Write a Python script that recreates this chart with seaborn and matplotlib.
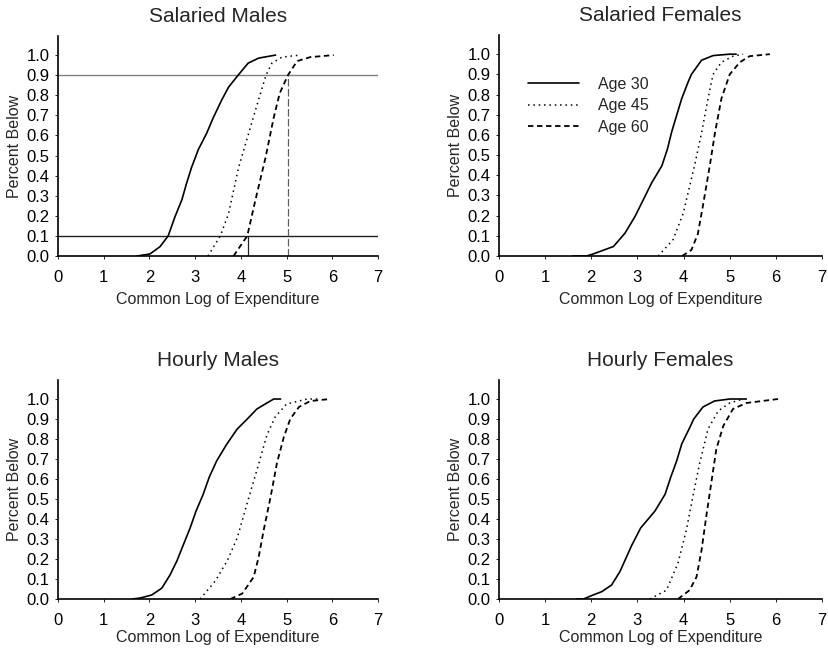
import matplotlib
matplotlib.use("Agg")
import matplotlib.pyplot as plt
import seaborn as sns
import numpy as np
from matplotlib.lines import Line2D

sns.set_style("ticks")
plt.rcParams['font.family'] = ['Liberation Sans', 'DejaVu Sans']

titles = ["Salaried Males", "Salaried Females", "Hourly Males", "Hourly Females"]
ages = ["Age 30", "Age 45", "Age 60"]

# Salaried Males
sm30_x = [1.73, 2.01, 2.23, 2.41, 2.56, 2.71, 2.81, 2.92, 3.07, 3.25, 3.40, 3.58, 3.73, 3.94, 4.16, 4.39, 4.76]
sm30_y = [0.0, 0.01, 0.046, 0.10, 0.196, 0.28, 0.36, 0.44, 0.53, 0.61, 0.69, 0.776, 0.84, 0.90, 0.96, 0.985, 1.0]
sm45_x = [3.28, 3.55, 3.73, 3.95, 4.17, 4.39, 4.55, 4.68, 4.90, 5.30]
sm45_y = [0.0, 0.10, 0.21, 0.44, 0.61, 0.78, 0.90, 0.96, 0.99, 1.0]
sm60_x = [3.84, 3.99, 4.14, 4.32, 4.54, 4.72, 4.85, 5.03, 5.23, 5.52, 6.03]
sm60_y = [0.0, 0.05, 0.10, 0.28, 0.49, 0.69, 0.81, 0.90, 0.97, 0.99, 1.0]

# Salaried Females
sf30_x = [1.60, 1.90, 2.04, 2.48, 2.73, 2.95, 3.13, 3.31, 3.53, 3.65, 3.74, 3.85, 3.96, 4.10, 4.17, 4.39, 4.64, 5.00, 5.14]
sf30_y = [0.0, 0.0, 0.01, 0.047, 0.113, 0.197, 0.28, 0.363, 0.447, 0.53, 0.613, 0.697, 0.78, 0.863, 0.90, 0.97, 0.993, 1.0, 1.0]
sf45_x = [3.45, 3.77, 3.99, 4.24, 4.39, 4.53, 4.64, 4.82, 5.07, 5.29]
sf45_y = [0.0, 0.08, 0.21, 0.45, 0.61, 0.78, 0.90, 0.96, 0.99, 1.0]
sf60_x = [3.97, 4.17, 4.31, 4.42, 4.57, 4.68, 4.82, 5.00, 5.22, 5.43, 5.87]
sf60_y = [0.0, 0.03, 0.11, 0.25, 0.45, 0.61, 0.78, 0.90, 0.96, 0.99, 1.0]

# Hourly Males
hm30_x = [1.62, 1.80, 2.05, 2.27, 2.45, 2.60, 2.74, 2.89, 3.02, 3.17, 3.31, 3.47, 3.68, 3.92, 4.14, 4.35, 4.57, 4.72, 4.87]
hm30_y = [0.0, 0.005, 0.02, 0.054, 0.12, 0.19, 0.27, 0.355, 0.44, 0.52, 0.61, 0.69, 0.77, 0.85, 0.90, 0.95, 0.98, 1.0, 1.0]
hm45_x = [3.11, 3.44, 3.70, 3.92, 4.14, 4.37, 4.57, 4.75, 5.00, 5.45, 5.74]
hm45_y = [0.0, 0.09, 0.19, 0.305, 0.48, 0.66, 0.82, 0.91, 0.975, 1.0, 1.0]
hm60_x = [3.77, 4.03, 4.28, 4.39, 4.50, 4.65, 4.79, 4.94, 5.08, 5.27, 5.52, 5.96]
hm60_y = [0.0, 0.027, 0.11, 0.21, 0.345, 0.51, 0.68, 0.81, 0.90, 0.96, 0.99, 1.0]

# Hourly Females
hf30_x = [1.68, 1.83, 2.04, 2.23, 2.44, 2.62, 2.88, 3.07, 3.38, 3.60, 3.72, 3.85, 3.96, 4.14, 4.22, 4.42, 4.67, 5.00, 5.36]
hf30_y = [0.0, 0.0, 0.02, 0.037, 0.07, 0.137, 0.27, 0.355, 0.44, 0.524, 0.608, 0.69, 0.775, 0.86, 0.90, 0.96, 0.99, 1.0, 1.0]
hf45_x = [3.27, 3.63, 3.88, 4.06, 4.20, 4.35, 4.53, 4.75, 5.00, 5.29]
hf45_y = [0.0, 0.044, 0.18, 0.345, 0.51, 0.68, 0.85, 0.94, 0.98, 1.0]
hf60_x = [3.88, 4.13, 4.28, 4.39, 4.49, 4.60, 4.71, 4.86, 5.07, 5.36, 6.05]
hf60_y = [0.0, 0.044, 0.11, 0.245, 0.41, 0.58, 0.75, 0.865, 0.95, 0.98, 1.0]

panels = [
    [(sm30_x, sm30_y), (sm45_x, sm45_y), (sm60_x, sm60_y)],
    [(sf30_x, sf30_y), (sf45_x, sf45_y), (sf60_x, sf60_y)],
    [(hm30_x, hm30_y), (hm45_x, hm45_y), (hm60_x, hm60_y)],
    [(hf30_x, hf30_y), (hf45_x, hf45_y), (hf60_x, hf60_y)],
]

# reference lines in Salaried Males panel
ref_h = [0.9, 0.1]
ref_v_x = [4.16, 5.03]
ref_v_top = [0.1, 0.9]

styles = [dict(linestyle='-', lw=1.2),
          dict(linestyle=(0, (1, 2.5)), lw=1.1),
          dict(linestyle=(0, (3, 2)), lw=1.3)]

xticks = list(range(0, 8))
yticks = [round(0.1 * i, 1) for i in range(11)]

fig = plt.figure(figsize=(8.29, 6.52), dpi=100)
W, H = 829, 652
boxes = [(58, 36, 378, 256), (499, 35, 822, 256), (58, 380, 378, 599), (499, 380, 822, 599)]
label_pads = [5, 5, 1.5, 1.5]

for i, (l, t, r, b) in enumerate(boxes):
    ax = fig.add_axes([l / W, 1 - b / H, (r - l) / W, (b - t) / H])
    for (xs, ys), st in zip(panels[i], styles):
        sns.lineplot(x=xs, y=ys, ax=ax, color='black', sort=False, estimator=None, **st)
    if i == 0:
        for yv, c in zip(ref_h, ['#808080', '#202020']):
            ax.axhline(yv, color=c, lw=1.0, zorder=1)
        for xv, top, c, ls in zip(ref_v_x, ref_v_top, ['#202020', '#606060'], ['-', (0, (6, 2))]):
            ax.plot([xv, xv], [0, top], color=c, lw=0.9, linestyle=ls)
    ax.set_xlim(0, 7)
    ax.set_ylim(0, 1.095)
    ax.set_xticks(xticks)
    ax.set_yticks(yticks)
    ax.set_xticklabels([str(v) for v in xticks])
    ax.set_yticklabels([f"{v:.1f}" for v in yticks])
    ax.tick_params(axis='both', labelsize=12, length=2, width=0.6, colors='black')
    ax.tick_params(axis='x', pad=8)
    ax.tick_params(axis='y', pad=4)
    for s in ['top', 'right']:
        ax.spines[s].set_visible(False)
    for s in ['left', 'bottom']:
        ax.spines[s].set_color('black')
        ax.spines[s].set_linewidth(1.2)
    ax.set_xlabel("Common Log of Expenditure", fontsize=11.5, labelpad=label_pads[i])
    ax.set_ylabel("Percent Below", fontsize=11.5, labelpad=3)
    ax.set_title(titles[i], fontsize=15, pad=10)
    if i == 1:
        handles = [Line2D([], [], color='black', **st) for st in styles]
        ax.legend(handles, ages, loc='upper left', bbox_to_anchor=(0.09, 0.81),
                  frameon=False, fontsize=11.5, handlelength=3.2, handletextpad=1.2,
                  labelspacing=0.4, borderpad=0, borderaxespad=0)

fig.savefig("out.png", dpi=100)
